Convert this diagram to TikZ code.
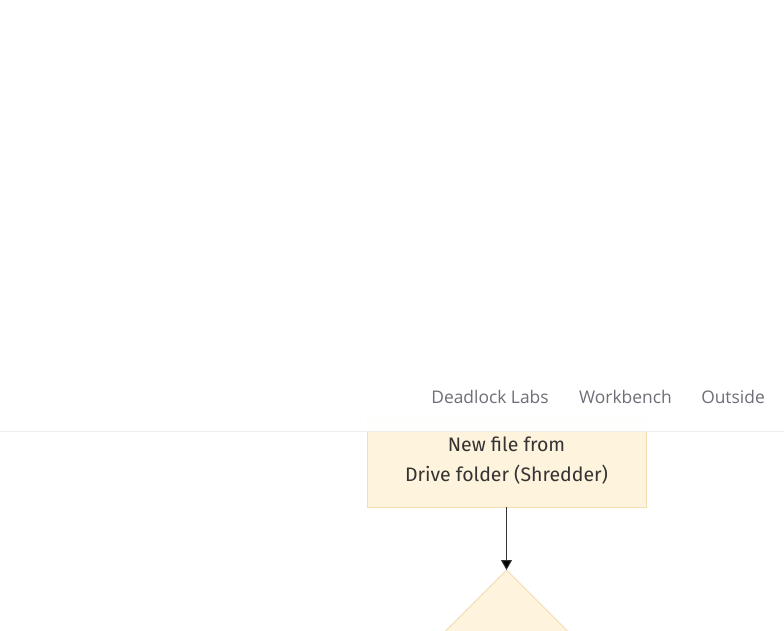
\documentclass[tikz,border=0pt]{standalone}
\usepackage{fontspec}
\setmainfont{Fira Sans}
\newfontfamily\navfont{Open Sans}
\usetikzlibrary{shapes.geometric,positioning,arrows.meta}
\definecolor{boxfill}{HTML}{FEF3DC}
\definecolor{boxline}{HTML}{F1DFB2}
\definecolor{navtext}{HTML}{6E6E78}
\definecolor{navrule}{HTML}{EEEEEE}
\definecolor{arrowline}{HTML}{333333}

\tikzset{
	process/.style={draw=boxline, fill=boxfill, line width=1pt, outer sep=0pt,
		minimum width=279pt, minimum height=92pt, align=center,
		font=\fontsize{19.5}{30}\selectfont, text=black!80},
	decision/.style={diamond, draw=boxline, fill=boxfill, line width=1pt, outer sep=0pt,
		minimum width=170pt, minimum height=170pt, inner sep=0pt},
	navitem/.style={font=\navfont\fontsize{17.4}{20}\selectfont, text=navtext},
	flow/.style={draw=arrowline, line width=1pt, -{Triangle[length=10pt,width=11pt,fill=black]}}
}

\begin{document}
\begin{tikzpicture}[x=1pt,y=-1pt]
		\useasboundingbox (0,0) rectangle (784,630);
		\clip (0,0) rectangle (784,630);

		\draw (506.5,461) node [process] (shred) {New file from\\Drive folder (Shredder)};
		\draw (506.5,655) node [decision] (check) {};

		\draw (shred.south) edge [flow] (check.north);

		% top bar
		\fill [white, opacity=0.97] (0,0) rectangle (784,431);
		\draw [navrule, line width=1pt] (0,431) -- (784,431);
		\draw (490,397) node [navitem] (labs) {Deadlock Labs};
		\draw (625.5,397) node [navitem] (bench) {Workbench};
		\draw (733,397) node [navitem] (outside) {Outside};
	\end{tikzpicture}
\end{document}
